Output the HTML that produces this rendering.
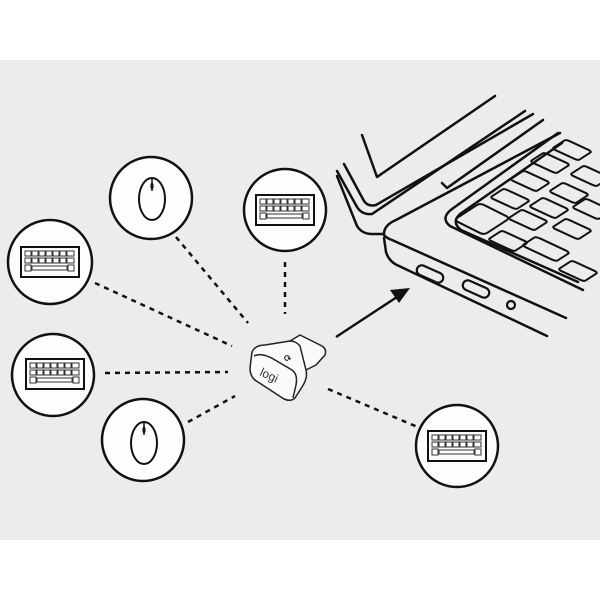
<!DOCTYPE html>
<html><head><style>
html,body{margin:0;padding:0;background:#fff;}
svg{display:block}
</style></head><body>
<svg width="600" height="600" viewBox="0 0 600 600" xmlns="http://www.w3.org/2000/svg">
<defs>
<g id="kb">
  <rect x="-29" y="-15" width="58" height="30" fill="none" stroke="#111" stroke-width="2"/>
  <g fill="none" stroke="#333" stroke-width="1">
    <rect x="-25" y="-11" width="6" height="5"/><rect x="-18" y="-11" width="6" height="5"/><rect x="-11" y="-11" width="6" height="5"/><rect x="-4" y="-11" width="6" height="5"/><rect x="3" y="-11" width="6" height="5"/><rect x="10" y="-11" width="6" height="5"/><rect x="17" y="-11" width="7" height="5"/>
    <rect x="-25" y="-4" width="6" height="5"/><rect x="-18" y="-4" width="6" height="5"/><rect x="-11" y="-4" width="6" height="5"/><rect x="-4" y="-4" width="6" height="5"/><rect x="3" y="-4" width="6" height="5"/><rect x="10" y="-4" width="6" height="5"/><rect x="17" y="-4" width="7" height="5"/>
    <rect x="-25" y="3" width="6" height="6"/><rect x="-18" y="4" width="35" height="4"/><rect x="18" y="3" width="6" height="6"/>
  </g>
</g>
<g id="ms">
  <ellipse cx="0" cy="0" rx="13" ry="21" fill="none" stroke="#111" stroke-width="2"/>
  <line x1="0" y1="-21" x2="0" y2="-8" stroke="#111" stroke-width="1.5"/>
  <rect x="-1.5" y="-16" width="3" height="6" rx="1.5" fill="#111"/>
</g>
<rect id="key" x="-0.5" y="-0.5" width="1" height="1" rx="0.12" fill="none" stroke="#111" stroke-width="2" vector-effect="non-scaling-stroke"/>
</defs>
<rect x="0" y="60" width="600" height="480" fill="#ececec"/>
<g fill="#fdfdfd" stroke="#111" stroke-width="2.5">
  <circle cx="151" cy="198" r="41"/>
  <circle cx="285" cy="210" r="41"/>
  <circle cx="50" cy="262" r="42"/>
  <circle cx="53" cy="375" r="41"/>
  <circle cx="143" cy="440" r="41"/>
  <circle cx="457" cy="446" r="41"/>
</g>
<use href="#ms" x="152" y="199"/>
<use href="#ms" x="144" y="443"/>
<use href="#kb" x="285" y="210"/>
<use href="#kb" x="50" y="262"/>
<use href="#kb" x="55" y="374"/>
<use href="#kb" x="457" y="446"/>
<g stroke="#111" stroke-width="2.5" stroke-dasharray="5 5" fill="none">
  <line x1="176" y1="237" x2="248" y2="323"/>
  <line x1="285" y1="262" x2="285" y2="314"/>
  <line x1="95" y1="283" x2="232" y2="346"/>
  <line x1="105" y1="373" x2="228" y2="372"/>
  <line x1="188" y1="422" x2="235" y2="396"/>
  <line x1="328" y1="389" x2="420" y2="428"/>
</g>
<!-- arrow -->
<line x1="336" y1="337" x2="400" y2="295" stroke="#111" stroke-width="2.5"/>
<polygon points="410,288 390,290 399,303" fill="#111"/>
<!-- dongle -->
<g stroke="#222" stroke-width="1.5" fill="#fafafa" stroke-linejoin="round">
  <path d="M290,341 L300,335 L322,346 Q327,349 325,355 L316,365 L306,370 Z"/>
  <path d="M252,352 Q255,345 265,345 L290,341 Q296,341 300,346 L306,370 Q308,378 302,387 L295,398 Q291,402 284,399 L258,382 Q250,378 250,368 Z"/>
  <path d="M254,356 Q262,352 275,360 L292,370 Q298,374 296,385 L293,398" fill="none"/>
</g>
<text x="0" y="0" transform="translate(259,375) rotate(25)" font-family="Liberation Sans, sans-serif" font-size="12" fill="#333">logi</text>
<text x="0" y="0" transform="translate(283,360) rotate(20)" font-family="DejaVu Sans, sans-serif" font-size="9" font-weight="bold" fill="#222">⟳</text>
<!-- laptop -->
<g stroke="#111" stroke-width="2.5" fill="none" stroke-linejoin="round" stroke-linecap="round">
  <polyline points="362,135 377,177 495,96"/>
  <path d="M337,171 L357,207 Q362,215 372,214 L525,111"/>
  <path d="M344,164 L364,201 Q368,207 376,205 L533,114"/>
  <path d="M337,176 L357,226 Q362,234 372,234 L384,234"/>
  <polyline points="442,183 447,188 543,120"/>
  <path d="M384,234 Q384,225 396,220 L560,133"/>
  <path d="M383,234 Q386,238 392,240 L566,318"/>
  <path d="M384,238 L386,252 Q389,262 399,266 L547,336"/>
  <path d="M558,133 L452,209 Q440,218 450,226 L583,290"/>
  <path d="M562,143 L460,214 Q451,222 461,230 L578,282"/>
</g>
<g stroke="#111" stroke-width="2.2" fill="none">
  <rect x="-14" y="-5" width="28" height="10" rx="5" transform="translate(430,274) rotate(24)"/>
  <rect x="-14" y="-5" width="28" height="10" rx="5" transform="translate(476,289) rotate(24)"/>
  <circle cx="511" cy="305" r="4"/>
</g>
<g>
  <use href="#key" transform="matrix(30,15,26,-17,482,219)"/>
  <use href="#key" transform="matrix(26,12,14,-9,508,241)"/>
  <use href="#key" transform="matrix(34,16,14,-9,546,249)"/>
  <use href="#key" transform="matrix(26,12,14,-9,578,271)"/>
  <use href="#key" transform="matrix(26,12,14,-9,510,199)"/>
  <use href="#key" transform="matrix(26,12,14,-9,528,220)"/>
  <use href="#key" transform="matrix(26,12,14,-9,572,229)"/>
  <use href="#key" transform="matrix(26,12,14,-9,530,181)"/>
  <use href="#key" transform="matrix(26,12,14,-9,549,208)"/>
  <use href="#key" transform="matrix(26,12,14,-9,569,193)"/>
  <use href="#key" transform="matrix(26,12,14,-9,550,163)"/>
  <use href="#key" transform="matrix(26,12,14,-9,592,209)"/>
  <use href="#key" transform="matrix(26,12,14,-9,572,150)"/>
  <use href="#key" transform="matrix(26,12,14,-9,590,176)"/>
</g>
</svg>
</body></html>
